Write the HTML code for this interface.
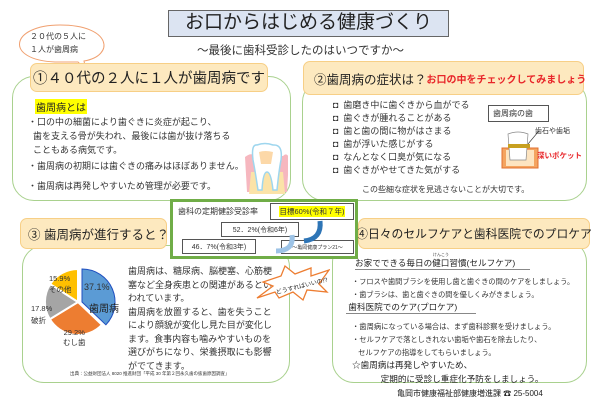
<!DOCTYPE html>
<html><head><meta charset="utf-8"><style>
*{margin:0;padding:0;box-sizing:border-box}
body{width:600px;height:405px;background:#fff;position:relative;overflow:hidden;font-family:"Liberation Sans","Noto Sans CJK JP",sans-serif;color:#333}
.a{position:absolute;white-space:nowrap}
.gb{position:absolute;border:1.5px solid #a9d18e;border-radius:22px;background:#fff}
.hd{position:absolute;background:#fde9bf;border:1px solid #f7cf86;border-radius:7px;display:flex;align-items:center;white-space:nowrap}
.t{font-size:9px;line-height:13px;white-space:nowrap}
.bx{position:absolute;border:1px solid #555;background:#fff;font-size:8px;display:flex;align-items:center;justify-content:center;white-space:nowrap}
</style></head><body>
<div class="a" style="left:168px;top:10px;width:281px;height:27px;background:#dce4f2;border:1.5px solid #666;font-size:19px;text-align:center;line-height:24px;color:#222">お口からはじめる健康づくり</div>
<div class="a" style="left:197px;top:42px;font-size:11.5px;color:#333">～最後に歯科受診したのはいつですか～</div>
<svg class="a" style="left:0;top:0" width="130" height="75"><path d="M60 25 C10 25 4 60 55 62 L78 62 L86 70 L84 61 C115 56 112 25 60 25Z" fill="#fff" stroke="#f0a070" stroke-width="1"/></svg>
<div class="a t" style="left:30px;top:30px;font-size:8px;line-height:13px">２０代の５人に<br>１人が歯周病</div>

<div class="gb" style="left:12px;top:76px;width:279px;height:125px"></div>
<div class="hd" style="left:30px;top:63px;width:238px;height:29px;font-size:14.5px;justify-content:center;color:#222">①４０代の２人に１人が歯周病です</div>
<div class="a" style="left:35px;top:99px;background:#ffff00;font-size:10px;padding:0 1px;color:#222">歯周病とは</div>
<div class="a t" style="left:28px;top:115px;line-height:14px">・口の中の細菌により歯ぐきに炎症が起こり、<br>&nbsp;&nbsp;歯を支える骨が失われ、最後には歯が抜け落ちる<br>&nbsp;&nbsp;こともある病気です。</div>
<div class="a t" style="left:28px;top:160px">・歯周病の初期には歯ぐきの痛みはほぼありません。</div>
<div class="a t" style="left:28px;top:180px">・歯周病は再発しやすいため管理が必要です。</div>
<svg class="a" style="left:243px;top:142px" width="45" height="55"><path d="M2 15 Q8 10 12 14 L40 14 Q44 10 46 16 L44 50 L4 50Z" fill="#f6b7bf"/><path d="M8 30 L40 30 L42 52 L6 52Z" fill="#fbe3a8"/><path d="M14 3 Q22 0 30 3 Q40 2 38 18 Q36 28 34 48 L30 48 Q28 30 24 30 Q20 30 19 48 L15 48 Q12 28 10 18 Q8 2 14 3Z" fill="#fff" stroke="#9ed6ee" stroke-width="1.5"/><path d="M16 10 Q22 8 30 10 L28 22 L18 22Z" fill="#fcd8a8"/></svg>

<div class="gb" style="left:302px;top:80px;width:285px;height:121px"></div>
<div class="hd" style="left:303px;top:61px;width:281px;height:34px;font-size:12.5px;padding-left:10px;color:#222"><span>②歯周病の症状は？</span><span style="color:#e8262a;font-size:10px;font-weight:bold">お口の中をチェックしてみましょう</span></div>
<div class="a t" style="left:333px;top:99px;line-height:13px">◘&nbsp; 歯磨き中に歯ぐきから血がでる<br>◘&nbsp; 歯ぐきが腫れることがある<br>◘&nbsp; 歯と歯の間に物がはさまる<br>◘&nbsp; 歯が浮いた感じがする<br>◘&nbsp; なんとなく口臭が気になる<br>◘&nbsp; 歯ぐきがやせてきた気がする</div>
<div class="bx" style="left:488px;top:105px;width:61px;height:17px;justify-content:flex-start;padding-left:4px">歯周病の歯</div>
<div class="a" style="left:535px;top:126px;font-size:7px">歯石や歯垢</div>
<svg class="a" style="left:498px;top:130px" width="45" height="40"><path d="M4 18 L40 18 L40 38 L4 38Z" fill="#f4a460" stroke="#e07030"/><path d="M8 20 L36 20 L36 36 L8 36Z" fill="#fde4c0"/><path d="M10 4 Q20 0 30 4 L28 30 L12 30Z" fill="#fff" stroke="#888" stroke-width=".7"/><rect x="10" y="14" width="22" height="4" fill="#c8a020"/><line x1="30" y1="14" x2="40" y2="2" stroke="#333" stroke-width=".6"/></svg>
<div class="a" style="left:537px;top:150px;font-size:7.5px;color:#e8262a;font-weight:bold">深いポケット</div>
<div class="a t" style="left:362px;top:183px;font-size:8px">この些細な症状を見逃さないことが大切です。</div>

<div class="gb" style="left:22px;top:245px;width:268px;height:138px"></div>
<div class="hd" style="left:20px;top:218px;width:147px;height:31px;font-size:12.5px;padding-left:7px;color:#222">③ 歯周病が進行すると？</div>
<svg class="a" style="left:30px;top:262px" width="95" height="80">
<path d="M52 40 L52 7 A33 33 0 0 1 75.9 62.8 Z" fill="#5b9bd5" stroke="#1f4fc0" stroke-width="1"/>
<path d="M48 40 L71.9 62.8 A33 33 0 0 1 19.8 57.2 Z" fill="#ed7d31" stroke="#fff" stroke-width="2"/>
<path d="M48 40 L19.8 57.2 A33 33 0 0 1 20.2 22.1 Z" fill="#a5a5a5" stroke="#fff" stroke-width="2"/>
<path d="M48 40 L20.2 22.1 A33 33 0 0 1 48 7 Z" fill="#ffc000" stroke="#fff" stroke-width="2"/>
</svg>
<div class="a" style="left:84px;top:282px;font-size:9px;color:#333">37.1%</div>
<div class="a" style="left:89px;top:300px;font-size:10px;color:#222">歯周病</div>
<div class="a" style="left:63px;top:328px;font-size:7.5px;line-height:10px;text-align:center">29.2%<br>むし歯</div>
<div class="a" style="left:31px;top:303px;font-size:7.5px;line-height:12px">17.8%<br>破折</div>
<div class="a" style="left:49px;top:273px;font-size:7.5px;line-height:11px">15.9%<br>その他</div>
<div class="a t" style="left:128px;top:265px;line-height:13.5px;font-size:9px">歯周病は、糖尿病、脳梗塞、心筋梗<br>塞など全身疾患との関連があるとい<br>われています。<br>歯周病を放置すると、歯を失うこと<br>により顔貌が変化し見た目が変化し<br>ます。食事内容も噛みやすいものを<br>選びがちになり、栄養摂取にも影響<br>がでてきます。</div>
<div class="a" style="left:70px;top:371px;font-size:4.5px">出典：公益財団法人 8020 推進財団「平成 30 年第２回永久歯の抜歯原因調査」</div>

<div class="gb" style="left:332px;top:240px;width:255px;height:143px"></div>
<div class="hd" style="left:358px;top:218px;width:232px;height:31px;font-size:11.8px;justify-content:center;color:#222">④日々のセルフケアと歯科医院でのプロケア</div>
<div class="a" style="left:433px;top:252px;font-size:4px">けんこう</div>
<div class="a" style="left:355px;top:257px;width:175px;font-size:8.6px;border-bottom:1.5px solid #888;color:#222">お家でできる毎日の健口習慣(セルフケア)</div>
<div class="a t" style="left:352px;top:275px;font-size:7.2px">・フロスや歯間ブラシを使用し歯と歯ぐきの間のケアをしましょう。<br>・歯ブラシは、歯と歯ぐきの間を優しくみがきましょう。</div>
<div class="a" style="left:346px;top:301px;width:130px;font-size:8.6px;border-bottom:1.5px solid #888;color:#222">&nbsp;歯科医院でのケア(プロケア)</div>
<div class="a t" style="left:352px;top:320px;font-size:7.3px">・歯周病になっている場合は、まず歯科診察を受けましょう。<br>・セルフケアで落としきれない歯垢や歯石を除去したり、<br>&nbsp;&nbsp;&nbsp;セルフケアの指導をしてもらいましょう。</div>
<div class="a t" style="left:352px;top:358px;font-size:8.6px;color:#222;line-height:14px">☆歯周病は再発しやすいため、<br>&nbsp;&nbsp;&nbsp;&nbsp;&nbsp;&nbsp;&nbsp;&nbsp;&nbsp;&nbsp;&nbsp;&nbsp;定期的に受診し重症化予防をしましょう。</div>

<div class="a" style="left:170px;top:199px;width:188px;height:60px;border:3px solid #70ad47;background:#fff"></div>
<div class="a" style="left:178px;top:206px;font-size:8px">歯科の定期健診受診率</div>
<div class="bx" style="left:270px;top:203px;width:84px;height:17px"><span style="background:#ffff00;font-size:7.5px">目標60%(令和７年)</span></div>
<div class="bx" style="left:221px;top:222px;width:78px;height:15px;font-size:7px">52．2%(令和6年)</div>
<div class="bx" style="left:182px;top:239px;width:74px;height:15px;font-size:7px">46．7%(令和3年)</div>
<div class="bx" style="left:281px;top:240px;width:73px;height:14px;font-size:5px">～亀岡健康プラン21～</div>
<svg class="a" style="left:250px;top:213px" width="80" height="50"><path d="M70 8 Q72 26 54 28" fill="none" stroke="#2e75b6" stroke-width="5"/><path d="M42 22 Q44 38 26 38" fill="none" stroke="#9dc3e6" stroke-width="5"/></svg>
<svg class="a" style="left:255px;top:262px" width="75" height="40"><path d="M2 36 L18 24 L8 20 L26 14 L30 4 L40 12 L56 6 L56 14 L74 8 L64 22 L72 30 L52 28 L48 38 L38 30 L24 36 L20 30Z" fill="#fff" stroke="#ed7d31" stroke-width="1.3"/><text x="20" y="28" font-size="6" fill="#222" transform="rotate(-14 38 24)" font-family="Liberation Sans,Noto Sans CJK JP,sans-serif">どうすればいいの!?</text></svg>

<div class="a" style="left:397px;top:388px;font-size:8px;color:#222">亀岡市健康福祉部健康増進課 ☎ 25-5004</div>
</body></html>
